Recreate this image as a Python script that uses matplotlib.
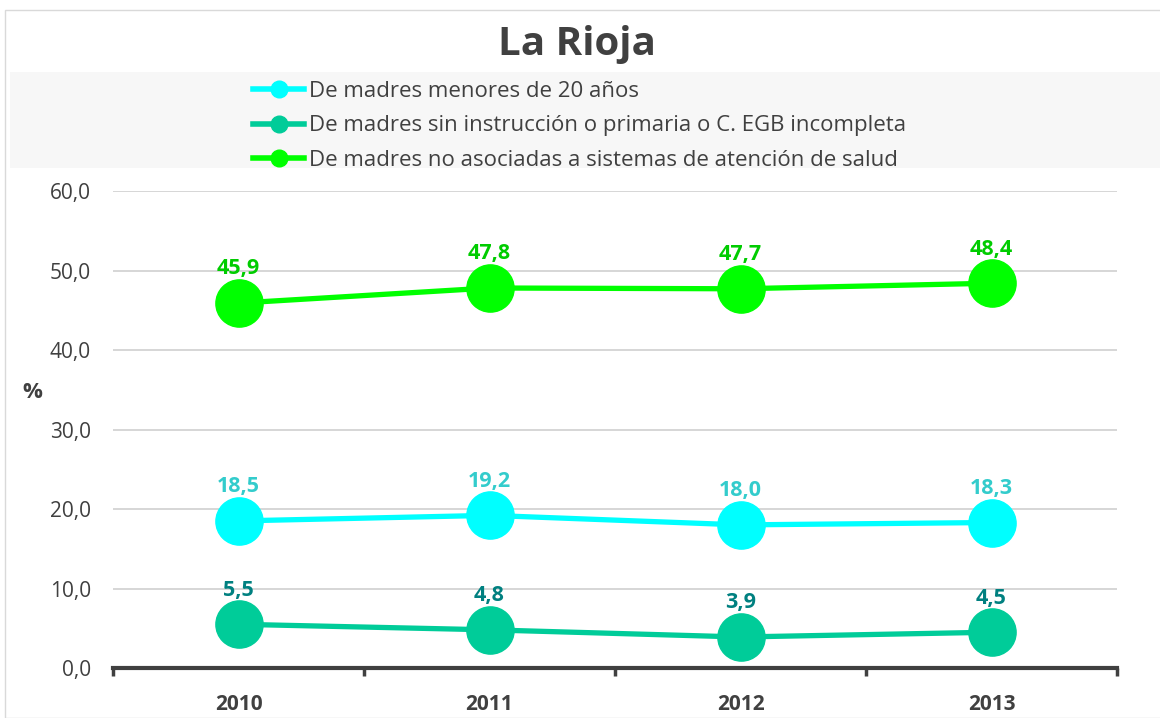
import matplotlib
matplotlib.use('Agg')
import matplotlib.pyplot as plt
from matplotlib.patches import Rectangle
from matplotlib.lines import Line2D

years = ['2010', '2011', '2012', '2013']
menores_20 = [18.5, 19.2, 18.0, 18.3]
sin_instruccion = [5.5, 4.8, 3.9, 4.5]
no_asociadas = [45.9, 47.8, 47.7, 48.4]

labels = ['De madres menores de 20 años',
          'De madres sin instrucción o primaria o C. EGB incompleta',
          'De madres no asociadas a sistemas de atención de salud']
line_colors = ['#00FFFF', '#00CC99', '#00FF00']
text_colors = ['#33CCCC', '#008080', '#00CC00']

plt.rcParams['font.family'] = ['Open Sans', 'DejaVu Sans']

fig = plt.figure(figsize=(11.6, 7.18), dpi=100)
W, H = 1160, 718

# chart frame and legend background
fig.patches.append(Rectangle((5 / W, 0), 1, 1 - 10 / H, transform=fig.transFigure,
                             facecolor='white', edgecolor='#d9d9d9', lw=1, zorder=-2))
fig.patches.append(Rectangle((10 / W, 1 - 168 / H), 1, 96 / H, transform=fig.transFigure,
                             facecolor='#f7f7f7', edgecolor='none', zorder=-1))

ax = fig.add_axes([113 / W, 1 - 668 / H, 1004 / W, 477 / H])
ax.set_facecolor('none')
ax.set_zorder(2)

x = list(range(len(years)))
for vals, lc, tc in zip([menores_20, sin_instruccion, no_asociadas], line_colors, text_colors):
    ax.plot(x, vals, color=lc, lw=3.8, marker='o', ms=34, zorder=3, solid_capstyle='round')
    for xi, v in zip(x, vals):
        ax.annotate(f'{v:.1f}'.replace('.', ','), (xi, v), xytext=(0, 17),
                    textcoords='offset points', ha='center', va='bottom',
                    fontsize=15.5, fontweight='bold', color=tc, zorder=4)

ax.set_xlim(-0.5, len(years) - 0.5)
ax.set_ylim(0, 60)
ax.set_yticks(range(0, 61, 10))
ax.set_yticklabels([f'{t},0' for t in range(0, 61, 10)], fontsize=15, color='#404040')
ax.yaxis.grid(True, color='#d0d0d0', lw=1.2)
ax.set_axisbelow(True)
ax.tick_params(axis='y', length=0, pad=16)

ax.set_xticks([i - 0.5 for i in range(len(years) + 1)])
ax.set_xticklabels([])
ax.set_xticks(x, minor=True)
ax.set_xticklabels(years, minor=True, fontsize=15, fontweight='bold', color='#404040')
ax.tick_params(axis='x', which='major', length=6, width=2.5, color='#404040', direction='out')
ax.tick_params(axis='x', which='minor', length=0, pad=19)

for s in ['top', 'right', 'left']:
    ax.spines[s].set_visible(False)
ax.spines['bottom'].set_color('#404040')
ax.spines['bottom'].set_linewidth(3)

fig.text(32 / W, 1 - 392 / H, '%', fontsize=16, fontweight='bold', color='#404040',
         ha='center', va='center')

fig.text(577 / W, 1 - 45 / H, 'La Rioja', fontsize=29, fontweight='bold', color='#404040',
         ha='center', va='center')

handles = [Line2D([], [], color=c, lw=4, marker='o', ms=12) for c in line_colors]
leg = fig.legend(handles, labels, loc='upper left', bbox_to_anchor=(233 / W, 1 - 61 / H),
                 frameon=False, fontsize=16, handlelength=2.3, handletextpad=0.2,
                 labelspacing=0.6, labelcolor='#404040')

fig.savefig('out.png', dpi=100)
